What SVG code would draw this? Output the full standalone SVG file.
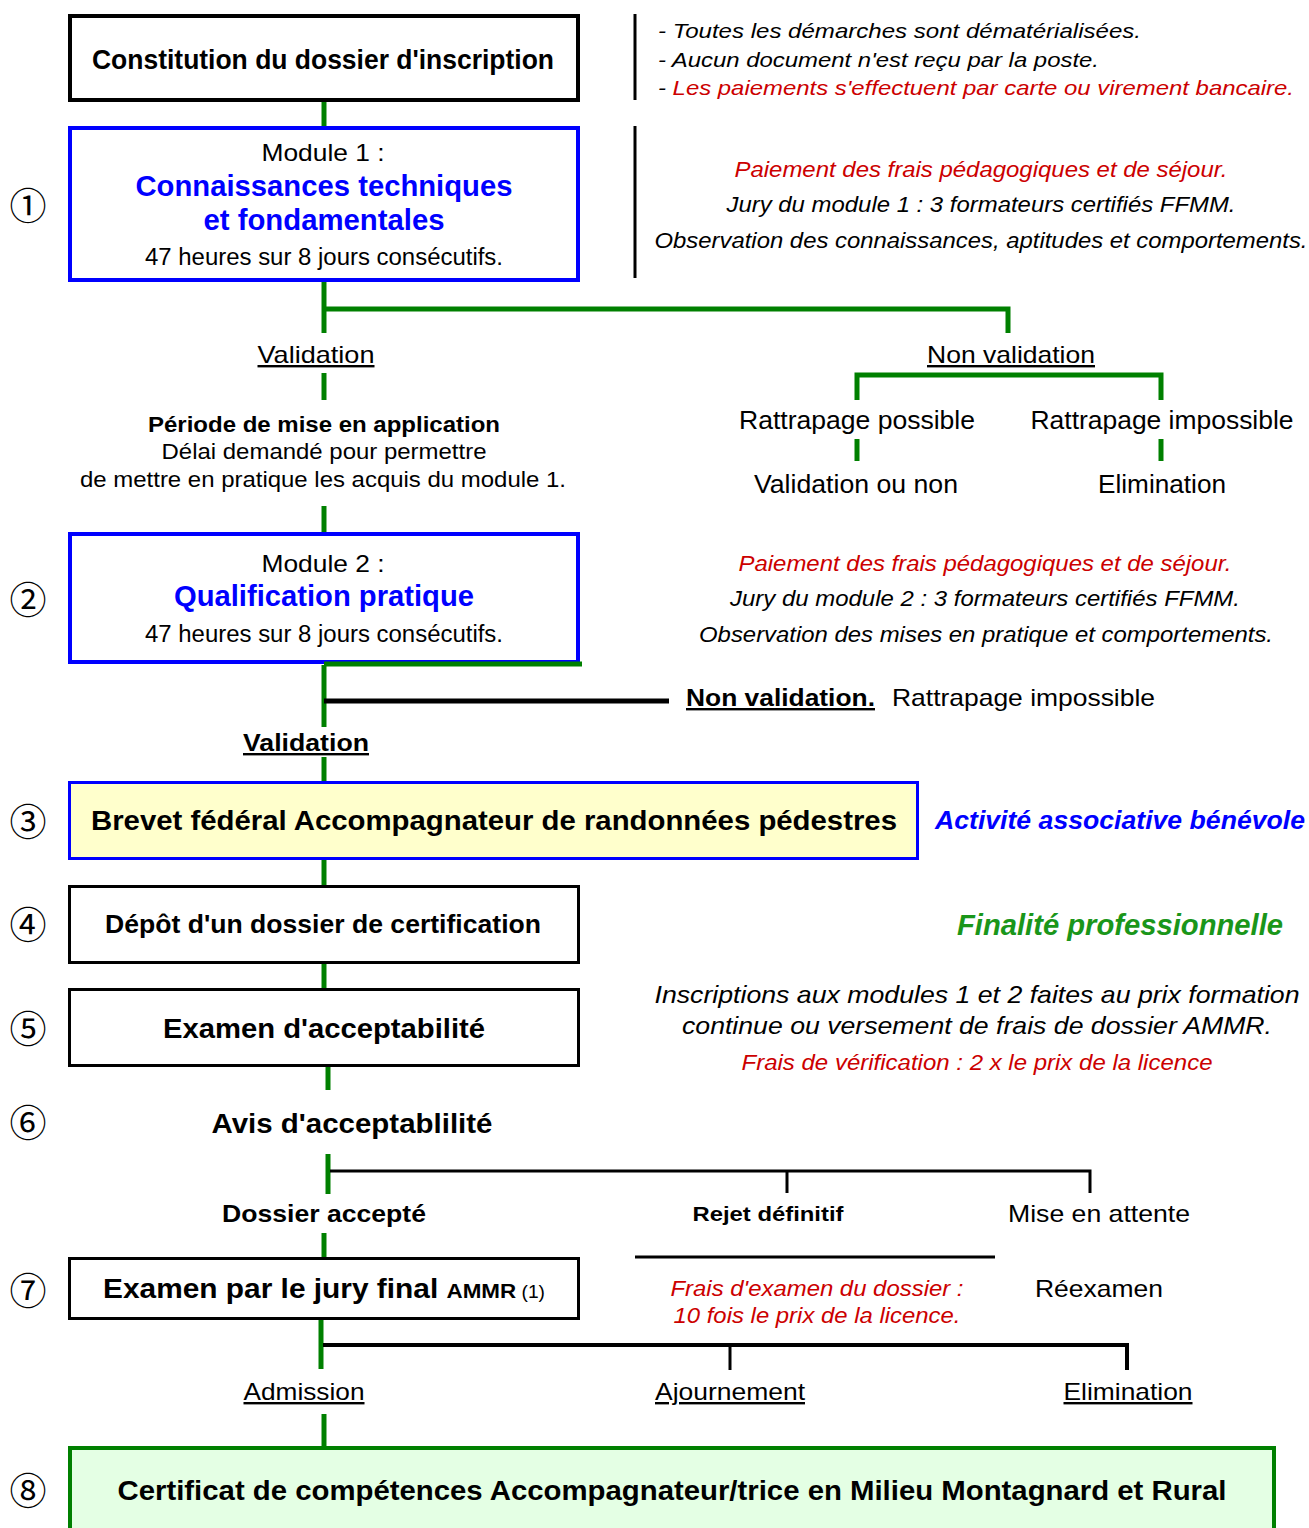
<svg xmlns="http://www.w3.org/2000/svg" width="1309" height="1528" viewBox="0 0 1309 1528">
<style>
text{font-family:"Liberation Sans",Arial,sans-serif;fill:#000}
.b{font-weight:bold}
.i{font-style:italic}
.c{text-anchor:middle}
.u{text-decoration:underline}
.red{fill:#CC0000}
.blue{fill:#0000FF}
.grn{fill:#1A961A}
.num{font-family:"Noto Sans CJK JP","DejaVu Sans",sans-serif;font-size:37px;text-anchor:middle;dominant-baseline:central}
.g{stroke:#008000;stroke-width:5;fill:none}
.k{stroke:#000;stroke-width:3;fill:none}
.boxk{fill:#fff;stroke:#000;stroke-width:3}
.boxb{fill:#fff;stroke:#0000FF;stroke-width:4}
</style>
<rect width="1309" height="1528" fill="#fff"/>

<g id="connectors">
<line class="g" x1="324" y1="102" x2="324" y2="126"/>
<line class="g" x1="324" y1="282" x2="324" y2="333"/>
<polyline class="g" points="324,309 1008,309 1008,333"/>
<line class="g" x1="324" y1="373" x2="324" y2="400"/>
<line class="g" x1="324" y1="506" x2="324" y2="532"/>
<polyline class="g" points="857,400 857,375 1161,375 1161,400"/>
<line class="g" x1="857" y1="439" x2="857" y2="461"/>
<line class="g" x1="1161" y1="439" x2="1161" y2="461"/>
<line class="g" x1="324" y1="665" x2="324" y2="727"/>
<line stroke="#000" stroke-width="5" x1="324" y1="701" x2="669" y2="701"/>
<line class="g" x1="324" y1="757" x2="324" y2="781"/>
<line class="g" x1="324" y1="860" x2="324" y2="885"/>
<line class="g" x1="324" y1="964" x2="324" y2="988"/>
<line class="g" x1="328" y1="1067" x2="328" y2="1090"/>
<line class="g" x1="328" y1="1154" x2="328" y2="1194"/>
<polyline class="k" points="330,1171 1090,1171 1090,1193"/>
<line class="k" x1="787" y1="1171" x2="787" y2="1193"/>
<line class="g" x1="324" y1="1233" x2="324" y2="1257"/>
<line class="k" x1="635" y1="1257" x2="995" y2="1257"/>
<line class="g" x1="321" y1="1320" x2="321" y2="1369"/>
<polyline class="k" style="stroke-width:4" points="323,1345 1127,1345 1127,1370"/>
<line class="k" x1="730" y1="1345" x2="730" y2="1370"/>
<line class="g" x1="324" y1="1414" x2="324" y2="1447"/>
<line class="k" x1="635" y1="14" x2="635" y2="100"/>
<line class="k" x1="635" y1="126" x2="635" y2="278"/>
</g>

<g id="n-constitution">
<rect x="70" y="16" width="508" height="84" fill="#fff" stroke="#000" stroke-width="4"/>
<text class="b c" x="323" y="69" font-size="27" textLength="462" lengthAdjust="spacingAndGlyphs">Constitution du dossier d'inscription</text>
</g>

<g id="n-notes-top">
<text class="i" x="658" y="38" font-size="21" textLength="483" lengthAdjust="spacingAndGlyphs">- Toutes les démarches sont dématérialisées.</text>
<text class="i" x="658" y="67" font-size="21" textLength="441" lengthAdjust="spacingAndGlyphs">- Aucun document n'est reçu par la poste.</text>
<text class="i" x="658" y="95" font-size="21" textLength="636" lengthAdjust="spacingAndGlyphs">- <tspan class="red">Les paiements s'effectuent par carte ou virement bancaire.</tspan></text>
</g>

<g id="n-module1">
<rect class="boxb" x="70" y="128" width="508" height="152"/>
<text class="c" x="323" y="161" font-size="24" textLength="123" lengthAdjust="spacingAndGlyphs">Module 1 :</text>
<text class="b c blue" x="324" y="196" font-size="29" textLength="377" lengthAdjust="spacingAndGlyphs">Connaissances techniques</text>
<text class="b c blue" x="324" y="230" font-size="29" textLength="241" lengthAdjust="spacingAndGlyphs">et fondamentales</text>
<text class="c" x="324" y="265" font-size="23" textLength="358" lengthAdjust="spacingAndGlyphs">47 heures sur 8 jours consécutifs.</text>
<text class="num" x="28" y="204">①</text>
</g>

<g id="n-module1-notes">
<text class="i c red" x="981" y="177" font-size="22" textLength="493" lengthAdjust="spacingAndGlyphs">Paiement des frais pédagogiques et de séjour.</text>
<text class="i c" x="981" y="212" font-size="22" textLength="509" lengthAdjust="spacingAndGlyphs">Jury du module 1 : 3 formateurs certifiés FFMM.</text>
<text class="i c" x="981" y="248" font-size="22" textLength="653" lengthAdjust="spacingAndGlyphs">Observation des connaissances, aptitudes et comportements.</text>
</g>

<g id="n-validation1">
<text class="c u" x="316" y="363" font-size="24" textLength="117" lengthAdjust="spacingAndGlyphs">Validation</text>
</g>

<g id="n-periode">
<text class="b c" x="324" y="432" font-size="22" textLength="352" lengthAdjust="spacingAndGlyphs">Période de mise en application</text>
<text class="c" x="324" y="459" font-size="22" textLength="325" lengthAdjust="spacingAndGlyphs">Délai demandé pour permettre</text>
<text class="c" x="323" y="487" font-size="22" textLength="486" lengthAdjust="spacingAndGlyphs">de mettre en pratique les acquis du module 1.</text>
</g>

<g id="n-nonvalidation1">
<text class="c u" x="1011" y="363" font-size="24" textLength="168" lengthAdjust="spacingAndGlyphs">Non validation</text>
</g>
<g id="n-ratt-possible">
<text class="c" x="857" y="429" font-size="25" textLength="236" lengthAdjust="spacingAndGlyphs">Rattrapage possible</text>
</g>
<g id="n-ratt-impossible">
<text class="c" x="1162" y="429" font-size="25" textLength="263" lengthAdjust="spacingAndGlyphs">Rattrapage impossible</text>
</g>
<g id="n-valid-ou-non">
<text class="c" x="856" y="493" font-size="25" textLength="204" lengthAdjust="spacingAndGlyphs">Validation ou non</text>
</g>
<g id="n-elimination1">
<text class="c" x="1162" y="493" font-size="25" textLength="128" lengthAdjust="spacingAndGlyphs">Elimination</text>
</g>

<g id="n-module2">
<rect class="boxb" x="70" y="534" width="508" height="128"/>
<line class="g" x1="324" y1="664" x2="582" y2="664"/>
<text class="c" x="323" y="572" font-size="24" textLength="123" lengthAdjust="spacingAndGlyphs">Module 2 :</text>
<text class="b c blue" x="324" y="606" font-size="29" textLength="300" lengthAdjust="spacingAndGlyphs">Qualification pratique</text>
<text class="c" x="324" y="642" font-size="23" textLength="358" lengthAdjust="spacingAndGlyphs">47 heures sur 8 jours consécutifs.</text>
<text class="num" x="28" y="598">②</text>
</g>

<g id="n-module2-notes">
<text class="i c red" x="985" y="571" font-size="22" textLength="493" lengthAdjust="spacingAndGlyphs">Paiement des frais pédagogiques et de séjour.</text>
<text class="i c" x="985" y="606" font-size="22" textLength="510" lengthAdjust="spacingAndGlyphs">Jury du module 2 : 3 formateurs certifiés FFMM.</text>
<text class="i c" x="986" y="642" font-size="22" textLength="574" lengthAdjust="spacingAndGlyphs">Observation des mises en pratique et comportements.</text>
</g>

<g id="n-nonvalidation2">
<text class="b u" x="686" y="706" font-size="24" textLength="189" lengthAdjust="spacingAndGlyphs">Non validation.</text>
<text x="892" y="706" font-size="24" textLength="263" lengthAdjust="spacingAndGlyphs">Rattrapage impossible</text>
</g>

<g id="n-validation2">
<text class="b c u" x="306" y="751" font-size="24" textLength="126" lengthAdjust="spacingAndGlyphs">Validation</text>
</g>

<g id="n-brevet">
<rect x="69.5" y="782.5" width="848" height="76" fill="#FFFFCC" stroke="#0000FF" stroke-width="3"/>
<text class="b c" x="494" y="830" font-size="27" textLength="806" lengthAdjust="spacingAndGlyphs">Brevet fédéral Accompagnateur de randonnées pédestres</text>
<text class="num" x="28" y="820">③</text>
</g>
<g id="n-activite">
<text class="b i c blue" x="1120" y="829" font-size="26" textLength="370" lengthAdjust="spacingAndGlyphs">Activité associative bénévole</text>
</g>

<g id="n-depot">
<rect class="boxk" x="69.5" y="886.5" width="509" height="76"/>
<text class="b c" x="323" y="933" font-size="25" textLength="436" lengthAdjust="spacingAndGlyphs">Dépôt d'un dossier de certification</text>
<text class="num" x="28" y="923">④</text>
</g>
<g id="n-finalite">
<text class="b i c grn" x="1120" y="935" font-size="29" textLength="326" lengthAdjust="spacingAndGlyphs">Finalité professionnelle</text>
</g>

<g id="n-examen-accept">
<rect class="boxk" x="69.5" y="989.5" width="509" height="76"/>
<text class="b c" x="324" y="1038" font-size="28" textLength="322" lengthAdjust="spacingAndGlyphs">Examen d'acceptabilité</text>
<text class="num" x="28" y="1027">⑤</text>
</g>
<g id="n-inscriptions">
<text class="i c" x="977" y="1003" font-size="24" textLength="645" lengthAdjust="spacingAndGlyphs">Inscriptions aux modules 1 et 2 faites au prix formation</text>
<text class="i c" x="977" y="1034" font-size="24" textLength="590" lengthAdjust="spacingAndGlyphs">continue ou versement de frais de dossier AMMR.</text>
<text class="i c red" x="977" y="1070" font-size="22" textLength="471" lengthAdjust="spacingAndGlyphs">Frais de vérification : 2 x le prix de la licence</text>
</g>

<g id="n-avis">
<text class="b c" x="352" y="1133" font-size="28" textLength="281" lengthAdjust="spacingAndGlyphs">Avis d'acceptablilité</text>
<text class="num" x="28" y="1121">⑥</text>
</g>

<g id="n-accepte">
<text class="b c" x="324" y="1222" font-size="24" textLength="204" lengthAdjust="spacingAndGlyphs">Dossier accepté</text>
</g>
<g id="n-rejet">
<text class="b c" x="768" y="1221" font-size="21" textLength="151" lengthAdjust="spacingAndGlyphs">Rejet définitif</text>
</g>
<g id="n-attente">
<text class="c" x="1099" y="1222" font-size="24" textLength="182" lengthAdjust="spacingAndGlyphs">Mise en attente</text>
</g>

<g id="n-jury">
<rect class="boxk" x="69.5" y="1258.5" width="509" height="60"/>
<text class="b c" x="324" y="1298" font-size="28" textLength="442" lengthAdjust="spacingAndGlyphs">Examen par le jury final <tspan font-size="21">AMMR</tspan><tspan font-size="18" font-weight="normal"> (1)</tspan></text>
<text class="num" x="28" y="1289">⑦</text>
</g>
<g id="n-frais-examen">
<text class="i c red" x="817" y="1296" font-size="22" textLength="293" lengthAdjust="spacingAndGlyphs">Frais d'examen du dossier :</text>
<text class="i c red" x="817" y="1323" font-size="22" textLength="287" lengthAdjust="spacingAndGlyphs">10 fois le prix de la licence.</text>
</g>
<g id="n-reexamen">
<text class="c" x="1099" y="1297" font-size="24" textLength="128" lengthAdjust="spacingAndGlyphs">Réexamen</text>
</g>

<g id="n-admission">
<text class="c u" x="304" y="1400" font-size="24" textLength="121" lengthAdjust="spacingAndGlyphs">Admission</text>
</g>
<g id="n-ajournement">
<text class="c u" x="730" y="1400" font-size="24" textLength="150" lengthAdjust="spacingAndGlyphs">Ajournement</text>
</g>
<g id="n-elimination2">
<text class="c u" x="1128" y="1400" font-size="24" textLength="129" lengthAdjust="spacingAndGlyphs">Elimination</text>
</g>

<g id="n-certificat">
<rect x="70" y="1448" width="1204" height="100" fill="#E4FFE4" stroke="#008000" stroke-width="4"/>
<text class="b c" x="672" y="1500" font-size="27" textLength="1109" lengthAdjust="spacingAndGlyphs">Certificat de compétences Accompagnateur/trice en Milieu Montagnard et Rural</text>
<text class="num" x="28" y="1489">⑧</text>
</g>
</svg>
